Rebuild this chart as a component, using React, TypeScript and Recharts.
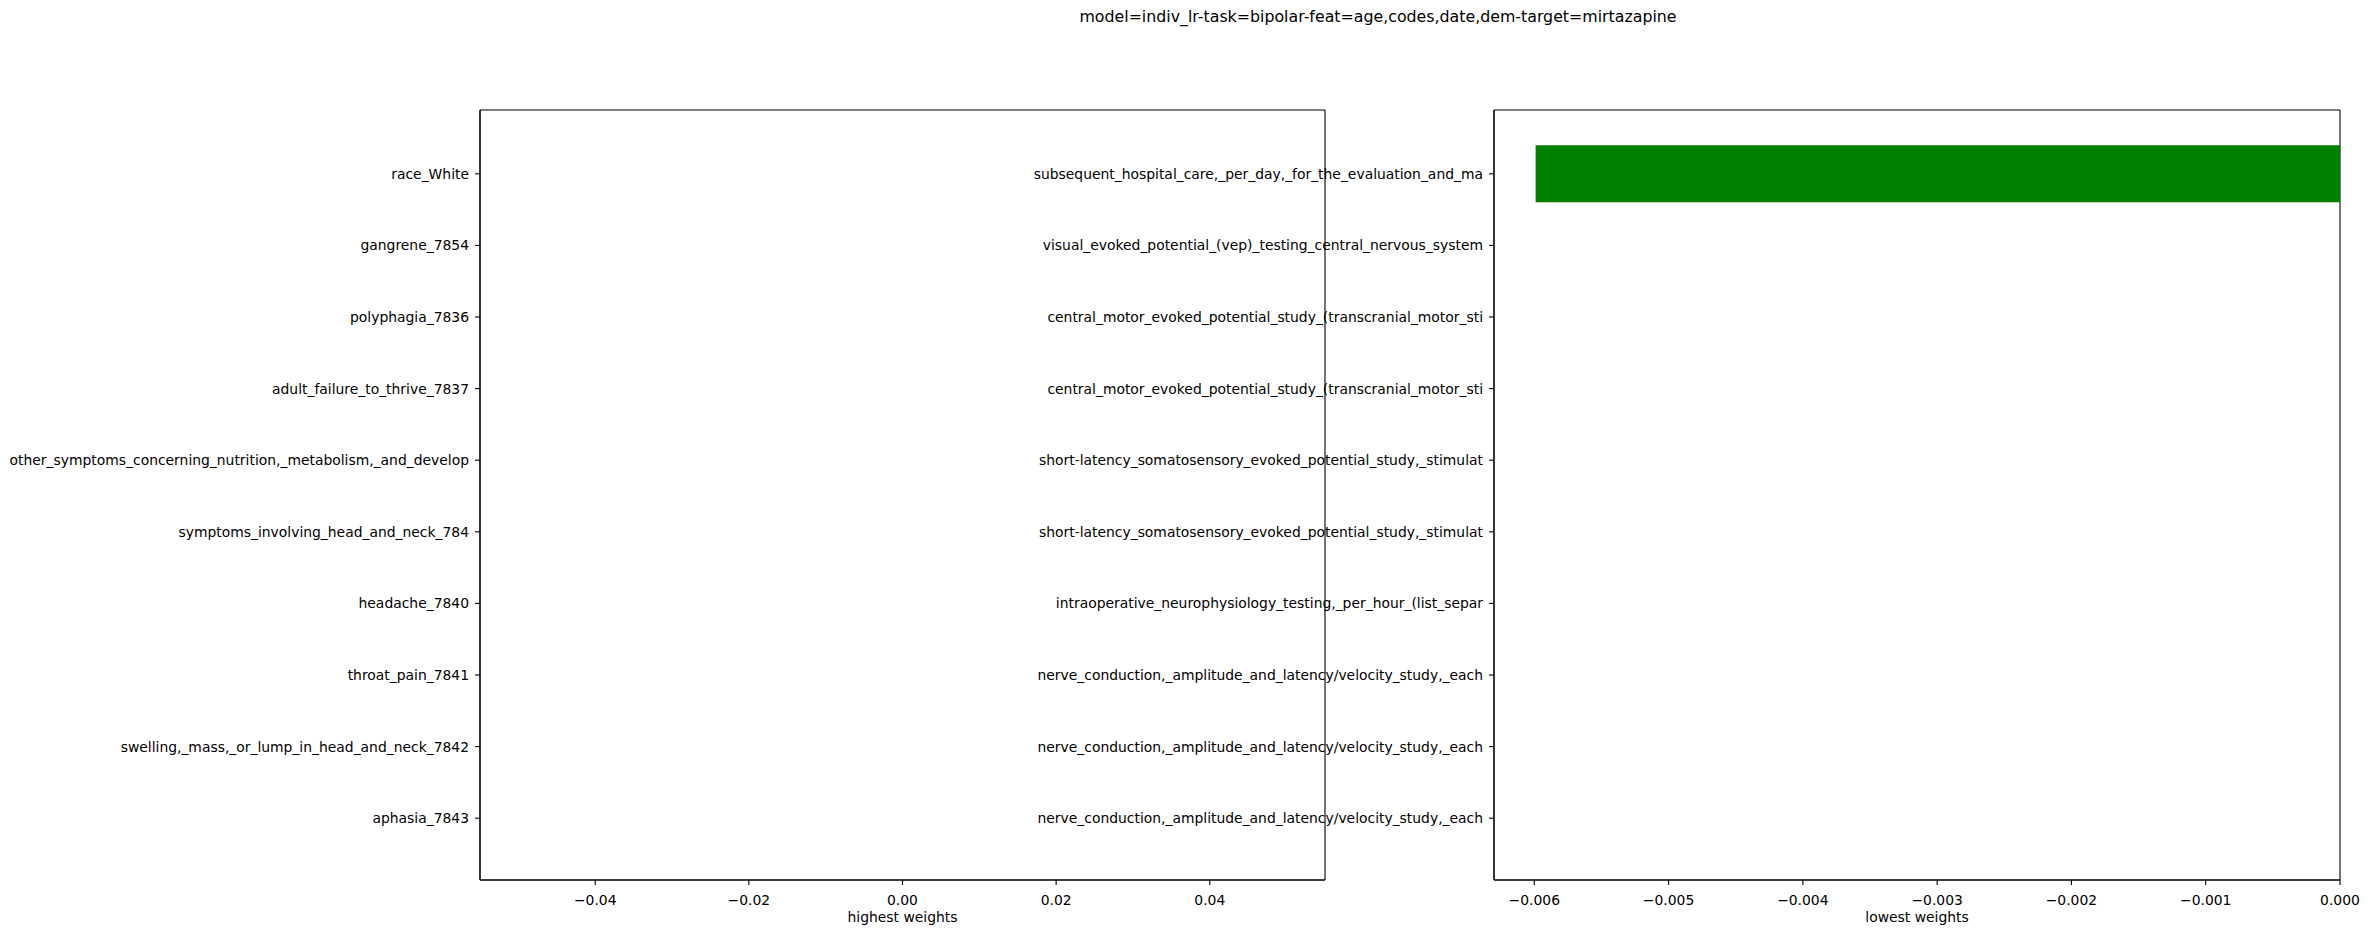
import { BarChart, Bar, XAxis, YAxis, CartesianGrid } from 'recharts';

const title = 'model=indiv_lr-task=bipolar-feat=age,codes,date,dem-target=mirtazapine';

const highestLabels = [
  'race_White',
  'gangrene_7854',
  'polyphagia_7836',
  'adult_failure_to_thrive_7837',
  'other_symptoms_concerning_nutrition,_metabolism,_and_develop',
  'symptoms_involving_head_and_neck_784',
  'headache_7840',
  'throat_pain_7841',
  'swelling,_mass,_or_lump_in_head_and_neck_7842',
  'aphasia_7843',
];
const highestValues = [0, 0, 0, 0, 0, 0, 0, 0, 0, 0];
const highestTicks = [-0.04, -0.02, 0, 0.02, 0.04];

const lowestLabels = [
  'subsequent_hospital_care,_per_day,_for_the_evaluation_and_ma',
  'visual_evoked_potential_(vep)_testing_central_nervous_system',
  'central_motor_evoked_potential_study_(transcranial_motor_sti',
  'central_motor_evoked_potential_study_(transcranial_motor_sti',
  'short-latency_somatosensory_evoked_potential_study,_stimulat',
  'short-latency_somatosensory_evoked_potential_study,_stimulat',
  'intraoperative_neurophysiology_testing,_per_hour_(list_separ',
  'nerve_conduction,_amplitude_and_latency/velocity_study,_each',
  'nerve_conduction,_amplitude_and_latency/velocity_study,_each',
  'nerve_conduction,_amplitude_and_latency/velocity_study,_each',
];
const lowestValues = [-0.00599, 0, 0, 0, 0, 0, 0, 0, 0, 0];
const lowestTicks = [-0.006, -0.005, -0.004, -0.003, -0.002, -0.001, 0];

const highestData = highestLabels.map((name, i) => ({ name, value: highestValues[i] }));
const lowestData = lowestLabels.map((name, i) => ({ name, value: lowestValues[i] }));

const FONT = '"DejaVu Sans", sans-serif';
const tickStyle = { fontSize: 13.9, fill: '#000' };
const spine = { stroke: '#000', strokeWidth: 1.1 };
const fmt = (digits: number) => (v: number) =>
  (v < 0 ? '\u2212' : '') + Math.abs(v).toFixed(digits);

// frame lines on the plot-area edges (matplotlib draws all four spines)
const frameRows = ({ offset }: any) => [offset.top, offset.top + offset.height];
const frameCols = ({ offset }: any) => [offset.left, offset.left + offset.width];

interface PanelProps {
  data: { name: string; value: number }[];
  domain: [number, number];
  ticks: number[];
  digits: number;
  axisLabel: string;
  left: number;
  width: number;
  yWidth: number;
  marginRight: number;
}

function Panel({ data, domain, ticks, digits, axisLabel, left, width, yWidth, marginRight }: PanelProps) {
  return (
    <div style={{ position: 'absolute', left, top: 0 }}>
      <BarChart
        width={width}
        height={933}
        data={data}
        layout="vertical"
        margin={{ top: 110, right: marginRight, left: 0, bottom: 0 }}
        barCategoryGap="10%"
        style={{ overflow: 'visible' }}
      >
        <CartesianGrid
          stroke="#000"
          strokeWidth={1.1}
          horizontalCoordinatesGenerator={frameRows}
          verticalCoordinatesGenerator={frameCols}
        />
        <XAxis
          type="number"
          domain={domain}
          ticks={ticks}
          allowDataOverflow
          tickFormatter={fmt(digits)}
          tick={tickStyle}
          tickSize={5}
          tickMargin={10}
          height={53}
          axisLine={spine}
          tickLine={spine}
          label={{ value: axisLabel, position: 'insideBottom', offset: 11, fill: '#000', fontSize: 13.9 }}
        />
        <YAxis
          type="category"
          dataKey="name"
          width={yWidth}
          interval={0}
          tick={tickStyle}
          tickSize={5}
          tickMargin={6}
          padding={{ top: 28, bottom: 26 }}
          axisLine={spine}
          tickLine={spine}
        />
        <Bar dataKey="value" fill="#008000" isAnimationActive={false} />
      </BarChart>
    </div>
  );
}

export default function App() {
  return (
    <div
      style={{
        position: 'absolute',
        left: 0,
        top: 0,
        width: 2369,
        height: 933,
        background: '#fff',
        fontFamily: FONT,
        overflow: 'hidden',
      }}
    >
      <div
        style={{
          position: 'absolute',
          left: 1378,
          top: 7,
          transform: 'translateX(-50%)',
          fontSize: 15.8,
          whiteSpace: 'nowrap',
          color: '#000',
        }}
      >
        {title}
      </div>
      <Panel
        data={highestData}
        domain={[-0.055, 0.055]}
        ticks={highestTicks}
        digits={2}
        axisLabel="highest weights"
        left={0}
        width={1340}
        yWidth={480}
        marginRight={15}
      />
      <Panel
        data={lowestData}
        domain={[-0.0063, 0]}
        ticks={lowestTicks}
        digits={3}
        axisLabel="lowest weights"
        left={1000}
        width={1369}
        yWidth={494}
        marginRight={29}
      />
    </div>
  );
}
